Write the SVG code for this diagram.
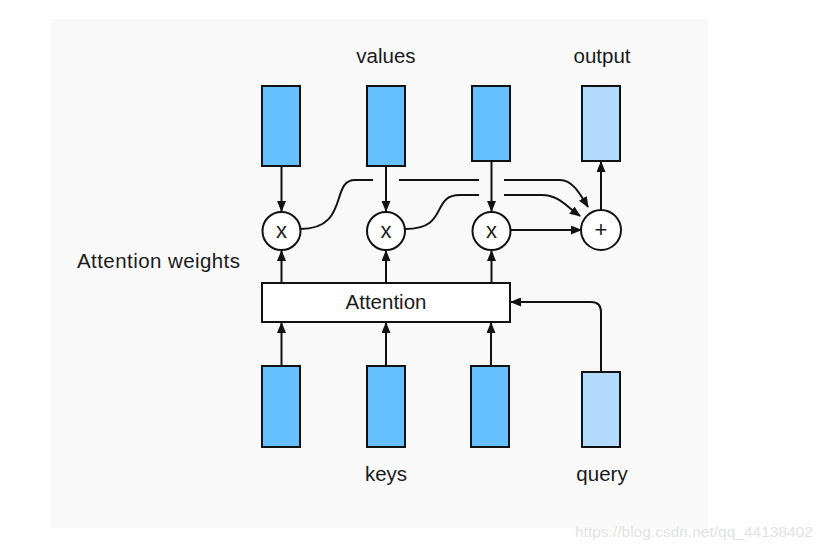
<svg xmlns="http://www.w3.org/2000/svg" width="828" height="556" viewBox="0 0 828 556">
<style>
text{font-family:"Liberation Sans",Arial,sans-serif;fill:#1a1a1a}
.lbl{font-size:20.5px;text-anchor:middle}
.op{font-size:22px;text-anchor:middle}
.v{fill:#66bfff;stroke:#111;stroke-width:2}
.o{fill:#b3daff;stroke:#111;stroke-width:2}
.c{fill:#fff;stroke:#111;stroke-width:2}
.ln{fill:none;stroke:#111;stroke-width:2}
.ar{fill:none;stroke:#111;stroke-width:2;marker-end:url(#ah)}
</style>
<defs>
<marker id="ah" markerUnits="userSpaceOnUse" markerWidth="11" markerHeight="9" refX="10" refY="4.5" orient="auto">
<path d="M0,0 L11,4.5 L0,9 z" fill="#111"/>
</marker>
</defs>
<rect x="0" y="0" width="828" height="556" fill="#fff"/>
<rect x="51" y="19" width="657" height="509" fill="#f9f9f9"/>
<g id="connectors">
<path class="ar" d="M281.5,167 V211"/>
<path class="ar" d="M386,167 V211"/>
<path class="ar" d="M491.5,162 V211"/>
<path class="ar" d="M281.5,283 V251"/>
<path class="ar" d="M386,283 V251"/>
<path class="ar" d="M491.5,283 V251"/>
<path class="ar" d="M281.5,365 V323"/>
<path class="ar" d="M386,365 V323"/>
<path class="ar" d="M491,365 V323"/>
<path class="ar" d="M601,371 V312 Q601,302 591,302 H511"/>
<path class="ln" d="M300,229 C350,229 330,180 355,180 H373"/>
<path class="ln" d="M399,180 H479"/>
<path class="ar" d="M504,180 H560 C572,180 579,192 588,207"/>
<path class="ln" d="M405,229 C450,229 430,195 460,195 H479"/>
<path class="ar" d="M504,195 H542 C558,195 566,206 580,216"/>
<path class="ar" d="M511,230 H581"/>
<path class="ar" d="M601,210 V162"/>
</g>
<g id="value1"><rect class="v" x="262" y="86" width="38" height="80"/></g>
<g id="value2"><rect class="v" x="367" y="86" width="38" height="80"/></g>
<g id="value3"><rect class="v" x="472" y="86" width="38" height="75"/></g>
<g id="output"><rect class="o" x="582" y="86" width="38" height="75"/></g>
<g id="mul1"><circle class="c" cx="281.5" cy="231" r="19"/><text class="op" x="281.5" y="238">x</text></g>
<g id="mul2"><circle class="c" cx="386" cy="231" r="19"/><text class="op" x="386" y="238">x</text></g>
<g id="mul3"><circle class="c" cx="491.5" cy="231" r="19"/><text class="op" x="491.5" y="238">x</text></g>
<g id="plus"><circle class="c" cx="601" cy="230" r="20"/><text class="op" x="601" y="237">+</text></g>
<g id="attention"><rect class="c" x="262" y="283" width="248" height="39"/><text class="lbl" x="386" y="309">Attention</text></g>
<g id="key1"><rect class="v" x="262" y="366" width="38" height="81"/></g>
<g id="key2"><rect class="v" x="367" y="366" width="38" height="81"/></g>
<g id="key3"><rect class="v" x="471" y="366" width="38" height="81"/></g>
<g id="query"><rect class="o" x="582" y="372" width="38" height="75"/></g>
<text class="lbl" x="386" y="63">values</text>
<text class="lbl" x="602" y="63">output</text>
<text class="lbl" x="386" y="481">keys</text>
<text class="lbl" x="602" y="481">query</text>
<text x="77" y="268" style="font-size:20.5px" textLength="163" lengthAdjust="spacing">Attention weights</text>
<text x="575" y="537" style="font-size:15.5px;fill:#e2e2e2">https://blog.csdn.net/qq_44138402</text>
</svg>
